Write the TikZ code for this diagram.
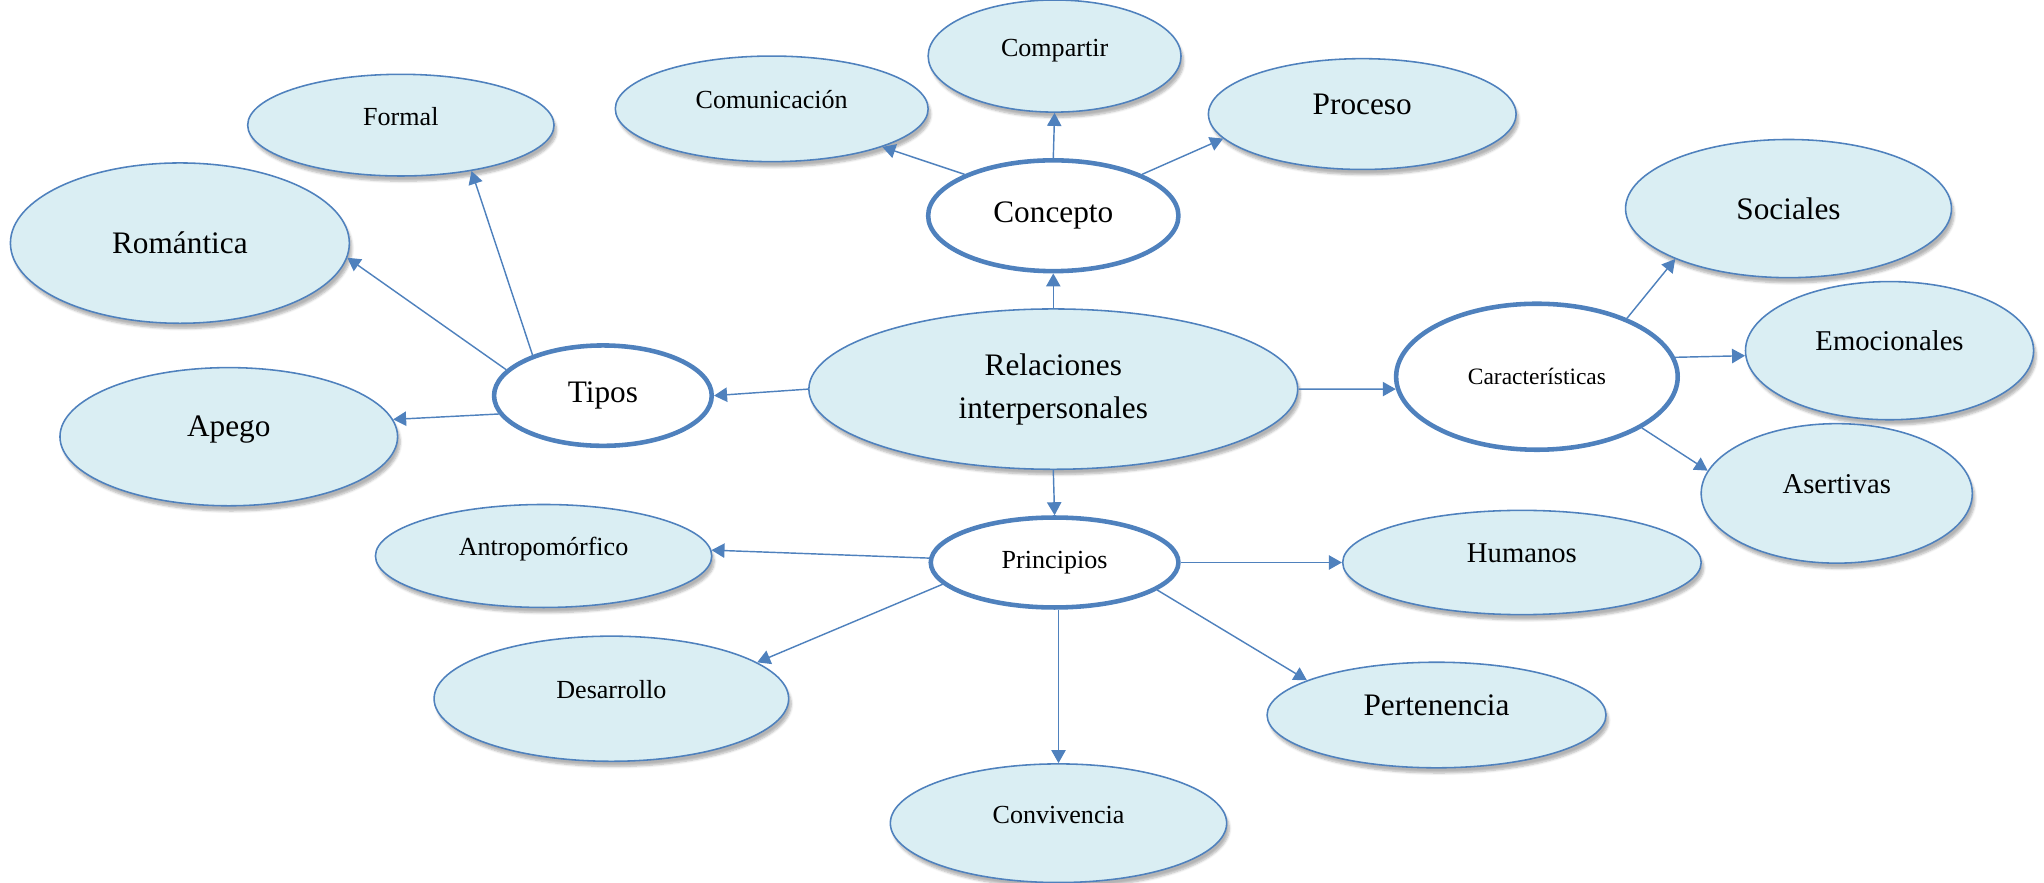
\documentclass[tikz,border=0pt]{standalone}
\usepackage{fontspec}
\setmainfont{Liberation Serif}
\usetikzlibrary{shapes.geometric,arrows.meta,shadows.blur}

\definecolor{azul}{HTML}{4F81BD}
\definecolor{celeste}{HTML}{DAEEF3}

\tikzstyle{hoja} = [ellipse, draw=azul, fill=celeste, line width=1.2pt,
    inner sep=0pt, blur shadow={shadow xshift=2pt, shadow yshift=-4pt,
    shadow opacity=30, shadow blur steps=6}]
\tikzstyle{eje} = [ellipse, draw=azul, fill=white, line width=3.5pt, inner sep=0pt]
\tikzstyle{arriba} = [text height=14pt, text depth=14pt]
\tikzstyle{chica} = [font=\fontsize{20}{24}\selectfont]
\tikzstyle{media} = [font=\fontsize{22}{26}\selectfont]
\tikzstyle{grande} = [font=\fontsize{24}{33}\selectfont]
\tikzstyle{flecha} = [draw=azul, line width=1.1pt, -{Triangle[length=10pt,width=11pt]}]

\begin{document}
\begin{tikzpicture}[x=1pt, y=-1pt]
\useasboundingbox (0,0) rectangle (1568,677);

%------------ Centro ---------------------
\node [hoja, grande, align=center, minimum width=375pt, minimum height=123pt]
    (relaciones) at (808,298.5) {Relaciones\\interpersonales};

%------------ Concepto ---------------------
\node [eje, grande, minimum width=192pt, minimum height=85pt] (concepto) at (808,165.5) {Concepto};
\node [hoja, arriba, chica, minimum width=194pt, minimum height=86pt] (compartir) at (809,43) {Compartir};
\node [hoja, arriba, chica, minimum width=240pt, minimum height=81pt] (comunicacion) at (592,83.5) {Comunicación};
\node [hoja, arriba, grande, minimum width=236pt, minimum height=85pt] (proceso) at (1045,87.5) {Proceso};

%------------ Tipos ---------------------
\node [eje, grande, minimum width=167pt, minimum height=77pt] (tipos) at (462.5,303.5) {Tipos};
\node [hoja, arriba, chica, minimum width=235pt, minimum height=78pt] (formal) at (307.5,96) {Formal};
\node [hoja, grande, minimum width=260pt, minimum height=123pt] (romantica) at (138,186.5) {Romántica};
\node [hoja, arriba, grande, minimum width=259pt, minimum height=106pt] (apego) at (175.5,335) {Apego};

%------------ Caracteristicas ---------------------
\node [eje, font=\fontsize{18}{22}\selectfont, minimum width=216pt, minimum height=112pt]
    (caracteristicas) at (1179,289) {Características};
\node [hoja, grande, minimum width=250pt, minimum height=106pt] (sociales) at (1372,160) {Sociales};
\node [hoja, arriba, media, minimum width=221pt, minimum height=106pt] (emocionales) at (1449.5,269) {Emocionales};
\node [hoja, arriba, media, minimum width=208pt, minimum height=107pt] (asertivas) at (1409,378.5) {Asertivas};

%------------ Principios ---------------------
\node [eje, chica, minimum width=190pt, minimum height=69pt] (principios) at (809,431.5) {Principios};
\node [hoja, arriba, chica, minimum width=258pt, minimum height=79pt] (antropomorfico) at (417,426.5) {Antropomórfico};
\node [hoja, arriba, media, minimum width=275pt, minimum height=80pt] (humanos) at (1167.5,431.5) {Humanos};
\node [hoja, arriba, chica, minimum width=272pt, minimum height=96pt] (desarrollo) at (469,536) {Desarrollo};
\node [hoja, arriba, grande, minimum width=260pt, minimum height=81pt] (pertenencia) at (1102,548.5) {Pertenencia};
\node [hoja, arriba, chica, minimum width=258pt, minimum height=91pt] (convivencia) at (812,631.5) {Convivencia};

%------------ Flechas ---------------------
\draw [flecha] (relaciones.north) -- (concepto.south);
\draw [flecha] (relaciones.west) -- (tipos.east);
\draw [flecha] (relaciones.east) -- (caracteristicas.185);
\draw [flecha] (relaciones.south) -- (principios.north);

\draw [flecha] (concepto.north) -- (compartir.south);
\draw [flecha] (concepto.155) -- (comunicacion.-19);
\draw [flecha] (concepto.25) -- (proceso.-170);

\draw [flecha] (tipos.150) -- (formal.-33);
\draw [flecha] (tipos.165) -- (romantica.-5);
\draw [flecha] (tipos.190) -- (apego.6);

\draw [flecha] (caracteristicas.33) -- (sociales.-156);
\draw [flecha] (caracteristicas.8) -- (emocionales.182);
\draw [flecha] (caracteristicas.-26) -- (asertivas.170);

\draw [flecha] (principios.178) -- (antropomorfico.2);
\draw [flecha] (principios.east) -- (humanos.west);
\draw [flecha] (principios.191) -- (desarrollo.14);
\draw [flecha] (principios.south -| convivencia.north) -- (convivencia.north);
\draw [flecha] (principios.-15) -- (pertenencia.165);
\end{tikzpicture}
\end{document}
